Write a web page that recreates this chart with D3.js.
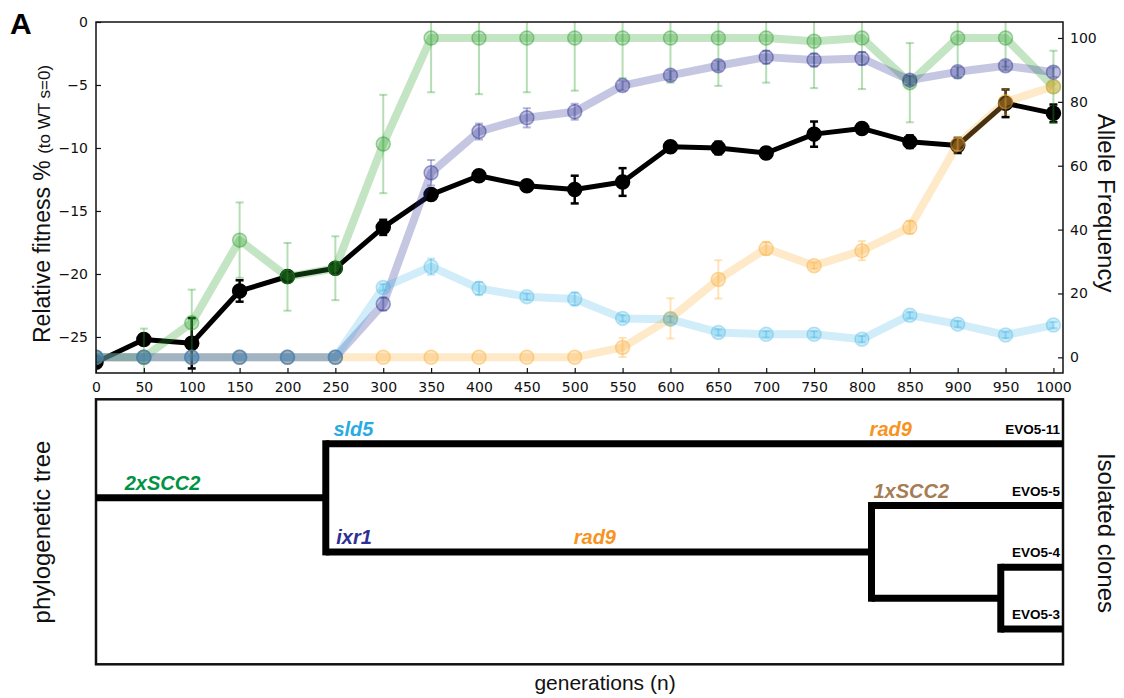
<!DOCTYPE html>
<html>
<head>
<meta charset="utf-8">
<script src="https://cdn.jsdelivr.net/npm/d3@7"></script>
<style>
  body { margin: 0; background: #fff; }
  svg { display: block; }
</style>
</head>
<body>
<svg id="chart" width="1124" height="698"></svg>
<script>
// ---- data -------------------------------------------------------------
const generations = [0, 50, 100, 150, 200, 250, 300, 350, 400, 450, 500,
                     550, 600, 650, 700, 750, 800, 850, 900, 950, 1000];

// population fitness relative to WT (%), left axis
const fitness    = [-27.0, -25.2, -25.5, -21.35, -20.2, -19.55, -16.3, -13.7, -12.2, -13.0, -13.3,
                    -12.7, -9.9, -10.0, -10.4, -8.9, -8.45, -9.5, -9.8, -6.45, -7.25];
const fitnessErr = [0.3, 0.4, 2.0, 0.85, 0.4, 0.3, 0.6, 0.3, 0.3, 0.4, 1.1,
                    1.1, 0.3, 0.5, 0.4, 1.0, 0.3, 0.5, 0.6, 1.1, 0.7];

// allele frequencies (%), right axis
const scc2    = [0, 0, 10.8, 36.7, 25.2, 27.9, 66.8, 100, 100, 100, 100,
                 100, 100, 100, 100, 99, 100, 86, 100, 100, 84.7];
const scc2Err = [0, 9, 10.4, 11.8, 10.6, 10, 15.4, 17, 17.6, 17, 16.5,
                 12.6, 14, 15, 14, 14.7, 16, 12.4, 12.6, 9, 11.3];
const ixr1    = [0, 0, 0, 0, 0, 0, 16.7, 57.8, 70.7, 75.0, 76.9,
                 85.1, 88.3, 91.3, 94, 93.1, 93.6, 86.8, 89.4, 91.3, 89.3];
const ixr1Err = [0, 0, 0, 0, 0, 0, 2, 4, 2.5, 3, 2.5,
                 1.5, 1.5, 1.5, 2, 2, 2, 1.5, 1.5, 1.5, 1.5];
const sld5    = [0, 0, 0, 0, 0, 0, 21.9, 28.4, 21.6, 19.0, 18.3,
                 12.2, 11.9, 7.8, 7.2, 7.2, 5.7, 13.2, 10.4, 7.0, 10.1];
const sld5Err = [0, 0, 0, 0, 0, 0, 1, 2.5, 2, 1, 2,
                 1, 1, 1, 1, 1, 1, 1, 1, 1, 1];
const rad9    = [0, 0, 0, 0, 0, 0, 0, 0, 0, 0, 0,
                 3.1, 12.2, 24.4, 34.1, 28.7, 33.4, 40.7, 66.7, 80, 84.8];
const rad9Err = [0, 0, 0, 0, 0, 0, 0, 0, 0, 0, 0,
                 3, 6.3, 6, 2, 1, 3, 2, 2, 4, 1];

const fitnessTicks = [0, -5, -10, -15, -20, -25];
const alleleTicks  = [0, 20, 40, 60, 80, 100];

// phylogeny of isolated clones: branch end (generation) per node
const treeNodes = [
  { id: "root",    parent: null,   gen: 240 },
  { id: "EVO5-11", parent: "root", gen: 1010 },
  { id: "n1",      parent: "root", gen: 810 },
  { id: "EVO5-5",  parent: "n1",   gen: 1010 },
  { id: "n2",      parent: "n1",   gen: 945 },
  { id: "EVO5-4",  parent: "n2",   gen: 1010 },
  { id: "EVO5-3",  parent: "n2",   gen: 1010 }
];
// mutations placed on branches (generation where the label starts)
const mutations = [
  { text: "2xSCC2", node: "root",    gen: 30,  color: "#009245" },
  { text: "sld5",   node: "EVO5-11", gen: 248, color: "#29abe2" },
  { text: "rad9",   node: "EVO5-11", gen: 808, color: "#f7931e" },
  { text: "ixr1",   node: "n1",      gen: 251, color: "#2e3192" },
  { text: "rad9",   node: "n1",      gen: 499, color: "#f7931e" },
  { text: "1xSCC2", node: "EVO5-5",  gen: 812, color: "#a67c52" }
];

// ---- layout -----------------------------------------------------------
const svg = d3.select("#chart");
const tickFont = "'DejaVu Sans', sans-serif";
const labelFont = "'Liberation Sans', Arial, sans-serif";

const plotL = 96, plotR = 1063, plotT = 22, plotB = 373;
const x  = d3.scaleLinear().domain([0, 1010]).range([plotL, plotR]);
const yL = d3.scaleLinear().domain([-27.86, 0]).range([plotB, plotT]);
const yR = d3.scaleLinear().domain([-4.9, 105]).range([plotB, plotT]);

svg.append("defs").append("clipPath").attr("id", "plotClip")
  .append("rect").attr("x", plotL).attr("y", plotT)
  .attr("width", plotR - plotL).attr("height", plotB - plotT);

const plot = svg.append("g").attr("clip-path", "url(#plotClip)");

function drawSeries(values, errs, yScale, style) {
  const g = plot.append("g");
  const pts = generations.map((gen, i) => ({ gen, v: values[i], e: errs[i] }));
  g.append("path").datum(pts)
    .attr("d", d3.line().x(d => x(d.gen)).y(d => yScale(d.v)))
    .attr("fill", "none")
    .attr("stroke", style.color)
    .attr("stroke-opacity", style.lineOpacity)
    .attr("stroke-width", style.lineWidth)
    .attr("stroke-linejoin", "round");
  const eb = g.append("g")
    .attr("stroke", style.color)
    .attr("stroke-opacity", style.errOpacity)
    .attr("stroke-width", style.errWidth);
  pts.filter(d => d.e > 0).forEach(d => {
    const cx = x(d.gen), y1 = yScale(d.v - d.e), y2 = yScale(d.v + d.e);
    eb.append("line").attr("x1", cx).attr("x2", cx).attr("y1", y1).attr("y2", y2);
    eb.append("line").attr("x1", cx - 4).attr("x2", cx + 4).attr("y1", y1).attr("y2", y1);
    eb.append("line").attr("x1", cx - 4).attr("x2", cx + 4).attr("y1", y2).attr("y2", y2);
  });
  g.selectAll("circle").data(pts).join("circle")
    .attr("cx", d => x(d.gen)).attr("cy", d => yScale(d.v))
    .attr("r", style.r)
    .attr("fill", style.color).attr("fill-opacity", style.fillOpacity)
    .attr("stroke", style.color).attr("stroke-opacity", style.strokeOpacity)
    .attr("stroke-width", 1.5);
}

const allele = { lineWidth: 8, lineOpacity: 0.28, errOpacity: 0.35, errWidth: 2,
                 r: 7, fillOpacity: 0.3, strokeOpacity: 0.45 };
const paleAllele = { lineWidth: 8, lineOpacity: 0.22, errOpacity: 0.3, errWidth: 2,
                     r: 7, fillOpacity: 0.22, strokeOpacity: 0.3 };

drawSeries(fitness, fitnessErr, yL, { color: "#000", lineWidth: 5, lineOpacity: 1,
  errOpacity: 1, errWidth: 2.5, r: 7, fillOpacity: 1, strokeOpacity: 1 });
drawSeries(scc2, scc2Err, yR, Object.assign({ color: "#2ca02c" }, allele));
drawSeries(rad9, rad9Err, yR, Object.assign({ color: "#fbb03b" }, allele));
drawSeries(ixr1, ixr1Err, yR, Object.assign({ color: "#2e3192" }, allele));
drawSeries(sld5, sld5Err, yR, Object.assign({ color: "#29abe2" }, paleAllele));

// axes (ticks point inwards)
function styleAxis(g) {
  g.select(".domain").remove();
  g.selectAll("line").attr("stroke", "#111").attr("stroke-width", 1.2);
  g.selectAll("text").attr("font-family", tickFont).attr("font-size", 14).attr("fill", "#111");
}
svg.append("g").attr("transform", `translate(0,${plotB})`)
  .call(d3.axisBottom(x).tickValues(generations).tickFormat(d3.format("d"))
        .tickSize(-5).tickSizeOuter(0).tickPadding(9))
  .call(styleAxis);
svg.append("g").attr("transform", `translate(${plotL},0)`)
  .call(d3.axisLeft(yL).tickValues(fitnessTicks).tickSize(-5).tickSizeOuter(0).tickPadding(8))
  .call(styleAxis);
svg.append("g").attr("transform", `translate(${plotR},0)`)
  .call(d3.axisRight(yR).tickValues(alleleTicks).tickSize(-5).tickSizeOuter(0).tickPadding(7))
  .call(styleAxis);

svg.append("rect").attr("x", plotL).attr("y", plotT)
  .attr("width", plotR - plotL).attr("height", plotB - plotT)
  .attr("fill", "none").attr("stroke", "#111").attr("stroke-width", 1.5);

// axis titles
svg.append("text").attr("x", 10).attr("y", 34)
  .attr("font-family", labelFont).attr("font-weight", "bold").attr("font-size", 30)
  .text("A");

const yTitle = svg.append("text")
  .attr("transform", "translate(50,343) rotate(-90)")
  .attr("font-family", labelFont).attr("fill", "#111");
yTitle.append("tspan").attr("font-size", 23).text("Relative fitness % ");
yTitle.append("tspan").attr("font-size", 17).text("(to WT s=0)");

svg.append("text")
  .attr("transform", "translate(1098,203) rotate(90)")
  .attr("text-anchor", "middle")
  .attr("font-family", labelFont).attr("font-size", 24).attr("fill", "#111")
  .text("Allele Frequency");

// ---- phylogenetic tree -------------------------------------------------
const treeTop = 399.3, treeBottom = 664.3;
svg.append("rect").attr("x", plotL).attr("y", treeTop)
  .attr("width", plotR - plotL).attr("height", treeBottom - treeTop)
  .attr("fill", "none").attr("stroke", "#111").attr("stroke-width", 2.5);

const root = d3.stratify().id(d => d.id).parentId(d => d.parent)(treeNodes);
const leaves = root.leaves();
const yLeaf = d3.scaleLinear().domain([-0.72, 3.57]).range([treeTop, treeBottom]);
leaves.forEach((leaf, i) => { leaf.y = yLeaf(i); });
root.eachAfter(n => {
  if (n.children) n.y = (n.children[0].y + n.children[n.children.length - 1].y) / 2;
});

const tree = svg.append("g").attr("stroke", "#000").attr("fill", "none");
root.each(n => {
  const x0 = n.parent ? x(n.parent.data.gen) : x(0);
  tree.append("line").attr("x1", x0).attr("x2", x(n.data.gen))
    .attr("y1", n.y).attr("y2", n.y).attr("stroke-width", 7);
  if (n.children) {
    tree.append("line").attr("x1", x(n.data.gen)).attr("x2", x(n.data.gen))
      .attr("y1", n.children[0].y).attr("y2", n.children[n.children.length - 1].y)
      .attr("stroke-width", 7).attr("stroke-linecap", "square");
  }
});

const nodeById = new Map(root.descendants().map(n => [n.id, n]));
svg.append("g").selectAll("text").data(mutations).join("text")
  .attr("x", d => x(d.gen)).attr("y", d => nodeById.get(d.node).y - 8)
  .attr("font-family", labelFont).attr("font-weight", "bold").attr("font-style", "italic")
  .attr("font-size", 20).attr("fill", d => d.color)
  .text(d => d.text);

svg.append("g").selectAll("text").data(leaves).join("text")
  .attr("x", plotR - 3).attr("y", d => d.y - 10)
  .attr("text-anchor", "end")
  .attr("font-family", labelFont).attr("font-weight", "bold").attr("font-size", 13.5)
  .attr("fill", "#000")
  .text(d => d.id);

svg.append("text")
  .attr("transform", "translate(50,532) rotate(-90)")
  .attr("text-anchor", "middle")
  .attr("font-family", labelFont).attr("font-size", 24).attr("fill", "#111")
  .text("phylogenetic tree");

svg.append("text")
  .attr("transform", "translate(1098,533) rotate(90)")
  .attr("text-anchor", "middle")
  .attr("font-family", labelFont).attr("font-size", 24).attr("fill", "#111")
  .text("Isolated clones");

svg.append("text").attr("x", 605).attr("y", 690)
  .attr("text-anchor", "middle")
  .attr("font-family", labelFont).attr("font-size", 21).attr("fill", "#111")
  .text("generations (n)");
</script>
</body>
</html>
